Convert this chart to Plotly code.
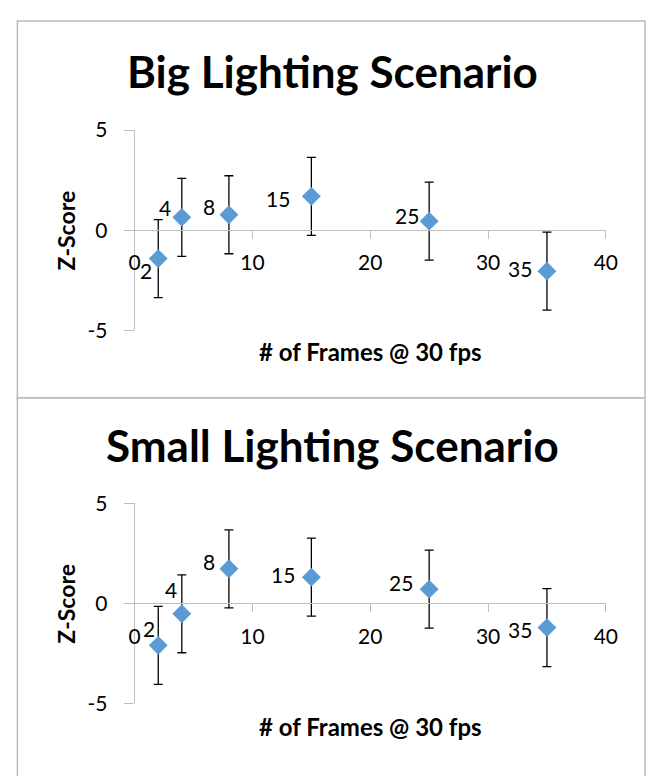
import plotly.graph_objects as go

# ---------------- data ----------------
frames = [2, 4, 8, 15, 25, 35]
point_labels = ["2", "4", "8", "15", "25", "35"]
big_z = [-1.42, 0.64, 0.77, 1.69, 0.45, -2.05]
big_err = [1.95, 1.95, 1.95, 1.95, 1.95, 1.95]
small_z = [-2.10, -0.52, 1.73, 1.31, 0.71, -1.21]
small_err = [1.95, 1.95, 1.95, 1.95, 1.95, 1.95]
x_ticks = [0, 10, 20, 30, 40]
y_ticks = [-5, 0, 5]
y_tick_text = ["-5", "0", "5"]
titles = ["Big Lighting Scenario", "Small Lighting Scenario"]
x_title = "# of Frames @ 30 fps"
y_title = "Z-Score"

# label offsets (pixels) for the data labels, per panel
big_label_shift = [(-4, -12), (-9, 10), (-12, 8), (-19, -2), (-8, 6), (-13, 3)]
small_label_shift = [(-1, 17), (-3, 24), (-12, 7), (-14, 3), (-14, 7), (-13, -2)]

W, H = 659, 776
FONT = "Lato"
GRID = "#BFBFBF"
BLUE = "#5B9BD5"


def py(pix):
    return 1 - pix / H


def px(pix):
    return pix / W


fig = go.Figure()

panels = [
    dict(z=big_z, err=big_err, shifts=big_label_shift, top=120.0, bot=326.7,
         title=titles[0], title_y=59, xt_y=349, xa="x", ya="y"),
    dict(z=small_z, err=small_err, shifts=small_label_shift, top=505.7, bot=712.3,
         title=titles[1], title_y=445, xt_y=736, xa="x2", ya="y2"),
]

x_dom = [px(132.3), px(616.7)]
annotations = []
layout_axes = {}

for i, p in enumerate(panels):
    fig.add_trace(go.Scatter(
        x=frames, y=p["z"], mode="markers",
        marker=dict(symbol="diamond", size=14.5, color=BLUE, line=dict(width=0)),
        error_y=dict(type="data", array=p["err"], visible=True,
                     color="#000000", thickness=1.3, width=4.5),
        xaxis=p["xa"], yaxis=p["ya"], showlegend=False, hoverinfo="x+y",
        cliponaxis=False,
    ))
    suffix = "" if i == 0 else "2"
    zero_pix = (p["top"] + p["bot"]) / 2
    layout_axes["xaxis" + suffix] = dict(
        domain=x_dom, range=[0, 40], tickvals=x_ticks,
        anchor="free", position=py(zero_pix),
        showline=True, linecolor=GRID, linewidth=1,
        ticks="outside", ticklen=8, tickcolor=GRID, tickwidth=1,
        showgrid=False, zeroline=False,
        tickfont=dict(family=FONT, size=21, color="#000000"),
        ticklabelstandoff=6,
        fixedrange=True,
    )
    layout_axes["yaxis" + suffix] = dict(
        domain=[py(p["bot"]), py(p["top"])], range=[-5, 5],
        tickvals=y_ticks, ticktext=y_tick_text,
        anchor="x" + ("" if i == 0 else "2"),
        showline=True, linecolor=GRID, linewidth=1,
        ticks="outside", ticklen=10, tickcolor=GRID, tickwidth=1,
        showgrid=True, gridcolor=GRID, gridwidth=1, zeroline=False,
        tickfont=dict(family=FONT, size=21, color="#000000"),
        ticklabelstandoff=12,
        fixedrange=True,
    )
    # chart title
    annotations.append(dict(
        text="<b>%s</b>" % p["title"], xref="paper", yref="paper",
        x=px(336), y=py(p["title_y"]), xanchor="center", yanchor="middle",
        showarrow=False, font=dict(family=FONT, size=44, color="#000000"),
    ))
    # x axis title
    annotations.append(dict(
        text="<b>%s</b>" % x_title, xref="paper", yref="paper",
        x=px(374.5), y=py(p["xt_y"]), xanchor="center", yanchor="middle",
        showarrow=False, font=dict(family=FONT, size=24, color="#000000"),
    ))
    # y axis title
    annotations.append(dict(
        text="<b>%s</b>" % y_title, xref="paper", yref="paper",
        x=px(62), y=py(zero_pix), xanchor="center", yanchor="middle",
        textangle=-90,
        showarrow=False, font=dict(family=FONT, size=23, color="#000000"),
    ))
    # data labels
    for xv, yv, lab, (dx, dy) in zip(frames, p["z"], point_labels, p["shifts"]):
        annotations.append(dict(
            text=lab, x=xv, y=yv, xref=p["xa"], yref=p["ya"],
            xanchor="right", yanchor="middle", xshift=dx, yshift=dy,
            showarrow=False, font=dict(family=FONT, size=21, color="#000000"),
        ))

# panel borders
shapes = [
    dict(type="rect", xref="paper", yref="paper",
         x0=px(11.7), x1=px(657), y0=py(396.5), y1=py(7.3),
         line=dict(color="#BBBBBB", width=1.5), fillcolor="rgba(0,0,0,0)"),
    dict(type="rect", xref="paper", yref="paper",
         x0=px(11.7), x1=px(657), y0=py(790), y1=py(396.5),
         line=dict(color="#BBBBBB", width=1.5), fillcolor="rgba(0,0,0,0)"),
]

fig.update_layout(
    width=W, height=H,
    margin=dict(l=0, r=0, t=0, b=0),
    paper_bgcolor="#FFFFFF", plot_bgcolor="#FFFFFF",
    annotations=annotations, shapes=shapes,
    showlegend=False,
    **layout_axes,
)

fig.write_html(
    "out.html",
    config={"displayModeBar": False},
    post_script="document.body.style.margin='0';document.body.style.overflow='hidden';",
)
